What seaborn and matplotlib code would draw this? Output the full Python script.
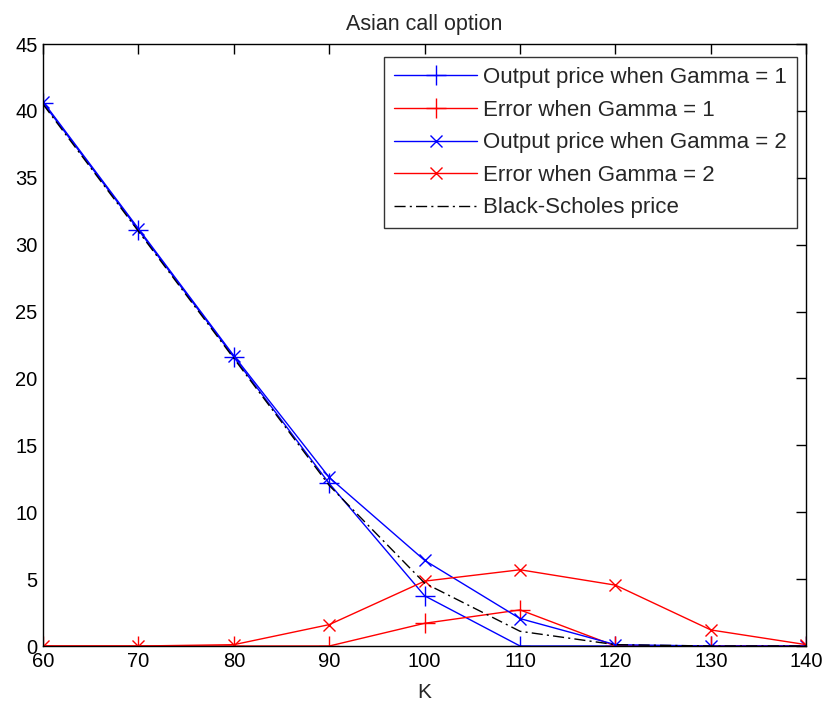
import numpy as np
import pandas as pd
import matplotlib
matplotlib.use("Agg")
import matplotlib.pyplot as plt
import seaborn as sns

# Strike prices
strikes = [60, 70, 80, 90, 100, 110, 120, 130, 140]

# Option prices and errors for the two Gamma settings
price_gamma1 = [40.6, 31.1, 21.6, 12.15, 3.75, 0.0, 0.0, 0.0, 0.0]
error_gamma1 = [0.0, 0.0, 0.0, 0.0, 1.7, 2.7, 0.0, 0.0, 0.0]
price_gamma2 = [40.7, 31.2, 21.7, 12.6, 6.4, 2.05, 0.1, 0.0, 0.0]
error_gamma2 = [0.0, 0.0, 0.1, 1.6, 4.85, 5.7, 4.55, 1.2, 0.1]
bs_price = [40.5, 31.0, 21.5, 12.0, 4.7, 1.1, 0.1, 0.0, 0.0]

sns.set_theme(style="white")
plt.rcParams["font.family"] = ["Liberation Sans", "DejaVu Sans"]

fig = plt.figure(figsize=(8.27, 7.11), dpi=100)
ax = fig.add_axes([0.052, 0.0914, 0.923, 0.8467])

series = [
    ("Output price when Gamma = 1", price_gamma1, "#0000ff", "+", 14),
    ("Error when Gamma = 1", error_gamma1, "#ff0000", "+", 14),
    ("Output price when Gamma = 2", price_gamma2, "#0000ff", "x", 8),
    ("Error when Gamma = 2", error_gamma2, "#ff0000", "x", 8),
]
for label, vals, color, marker, ms in series:
    df = pd.DataFrame({"K": strikes, "v": vals})
    sns.lineplot(data=df, x="K", y="v", ax=ax, color=color, marker=marker,
                 markersize=ms, markeredgewidth=1.0, linewidth=1.0,
                 label=label, markeredgecolor=color)

df_bs = pd.DataFrame({"K": strikes, "v": bs_price})
sns.lineplot(data=df_bs, x="K", y="v", ax=ax, color="black", linewidth=1.0,
             linestyle=(0, (8, 3, 1.5, 3)), label="Black-Scholes price")

ax.set_xlim(60, 140)
ax.set_ylim(0, 45)
ax.set_xticks(range(60, 141, 10))
ax.set_yticks(range(0, 46, 5))
ax.set_xlabel("K", fontsize=15, labelpad=9)
ax.set_ylabel("")
ax.set_title("Asian call option", fontsize=15.5, pad=10)

for s in ax.spines.values():
    s.set_color("black")
    s.set_linewidth(1.0)
ax.tick_params(direction="in", length=7, width=1, top=True, right=True,
               labelsize=14.5, colors="black", pad=4)

leg = ax.legend(loc="upper right", bbox_to_anchor=(0.988, 0.978), fontsize=16,
                frameon=True, fancybox=False, handlelength=3.75,
                borderpad=0.45, labelspacing=0.52, handletextpad=0.27,
                borderaxespad=0)
leg.get_frame().set_edgecolor("black")
leg.get_frame().set_linewidth(1.0)

fig.savefig("out.png", dpi=100)
